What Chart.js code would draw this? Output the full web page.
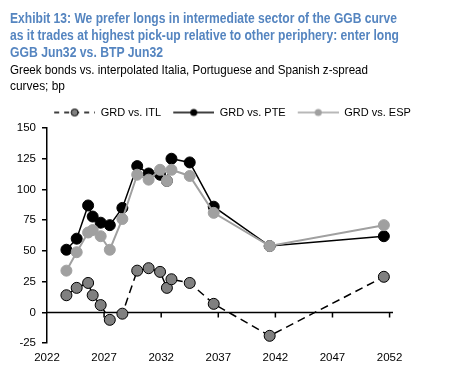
<!DOCTYPE html>
<html>
<head>
<meta charset="utf-8">
<script src="https://cdn.jsdelivr.net/npm/chart.js@4"></script>
<style>
  html, body { margin: 0; padding: 0; background: #fff; }
  #wrap { position: relative; width: 457px; height: 387px; overflow: hidden; }
  .txt { position: absolute; left: 10px; white-space: nowrap; font-family: "Liberation Sans", Arial, sans-serif; }
  .txt span { display: block; transform-origin: 0 50%; }
  #title { top: 10px; font-weight: bold; font-size: 14px; line-height: 17px; color: #5585c0; }
  #sub { top: 62px; font-size: 13px; line-height: 16px; color: #000; }
  canvas { position: absolute; left: 0; top: 0; }
</style>
</head>
<body>
<div id="wrap">
  <canvas id="chart" width="457" height="387"></canvas>
  <div id="title" class="txt">
    <span data-w="387">Exhibit 13: We prefer longs in intermediate sector of the GGB curve</span>
    <span data-w="389">as it trades at highest pick-up relative to other periphery: enter long</span>
    <span data-w="153">GGB Jun32 vs. BTP Jun32</span>
  </div>
  <div id="sub" class="txt">
    <span data-w="358">Greek bonds vs. interpolated Italia, Portuguese and Spanish z-spread</span>
    <span data-w="55">curves; bp</span>
  </div>
</div>
<script>
const maturities = [2023.7, 2024.6, 2025.6, 2026.0, 2026.7, 2027.5, 2028.6, 2029.9, 2030.9, 2031.9, 2032.5, 2032.9, 2034.5, 2036.6, 2041.5, 2051.5];
const grdVsItl = [14, 20, 24, 14, 6, -6, -1, 34, 36, 33, 20, 27, 24, 7, -19, 29];
const grdVsPte = [51, 60, 87, 78, 73, 71, 85, 119, 113, 112, 107, 125, 122, 86, 54, 62];
const grdVsEsp = [34, 49, 65, 67, 62, 51, 76, 112, 108, 116, 107, 116, 111, 81, 54, 71];
const xTicks = [2022, 2027, 2032, 2037, 2042, 2047, 2052];
const yTicks = [-25, 0, 25, 50, 75, 100, 125, 150];

const FONT = "'Liberation Sans', Arial, sans-serif";

// squeeze the heading lines to the narrow face of the original
document.querySelectorAll('.txt span').forEach(el => {
    const range = document.createRange();
    range.selectNodeContents(el);
    const natural = range.getBoundingClientRect().width;
    el.style.transform = 'scaleX(' + (Number(el.dataset.w) / natural) + ')';
});

function toPoints(values) {
    return maturities.map((m, i) => ({ x: m, y: values[i] }));
}

// line + marker swatch for the legend (left margin gives the gap between items)
function legendSwatch(lineColor, fill, border, dashed) {
    const c = document.createElement('canvas');
    c.width = 49;
    c.height = 10;
    const g = c.getContext('2d');
    g.strokeStyle = lineColor;
    g.lineWidth = 1.5;
    if (dashed) g.setLineDash([5, 5]);
    g.beginPath();
    g.moveTo(8, 5);
    g.lineTo(49, 5);
    g.stroke();
    g.setLineDash([]);
    g.beginPath();
    g.arc(28.5, 5, 3.5, 0, Math.PI * 2);
    g.fillStyle = fill;
    g.fill();
    if (border) {
        g.strokeStyle = border;
        g.lineWidth = 1;
        g.stroke();
    }
    return c;
}

// zero line with small downward ticks, like the original
const zeroAxis = {
    id: 'zeroAxis',
    beforeDatasetsDraw(chart) {
        const { ctx, scales: { x, y } } = chart;
        const y0 = y.getPixelForValue(0);
        ctx.save();
        ctx.strokeStyle = '#000';
        ctx.lineWidth = 1.5;
        ctx.beginPath();
        ctx.moveTo(x.left, y0);
        ctx.lineTo(x.right, y0);
        xTicks.slice(1).forEach(t => {
            const px = x.getPixelForValue(t);
            ctx.moveTo(px, y0);
            ctx.lineTo(px, y0 + 5);
        });
        ctx.stroke();
        ctx.restore();
    }
};

new Chart(document.getElementById('chart'), {
    type: 'line',
    data: {
        datasets: [{
            label: 'GRD vs. ITL',
            data: toPoints(grdVsItl),
            borderColor: '#000',
            borderWidth: 1.5,
            borderDash: [8, 5],
            pointRadius: 5.5,
            pointBackgroundColor: '#808080',
            pointBorderColor: '#000',
            pointBorderWidth: 1,
            order: 2,
            legendSwatch: legendSwatch('#000', '#808080', '#000', true)
        }, {
            label: 'GRD vs. PTE',
            data: toPoints(grdVsPte),
            borderColor: '#000',
            borderWidth: 1.5,
            pointRadius: 5.5,
            pointBackgroundColor: '#000',
            pointBorderColor: '#000',
            pointBorderWidth: 1,
            order: 1,
            legendSwatch: legendSwatch('#000', '#000', null, false)
        }, {
            label: 'GRD vs. ESP',
            data: toPoints(grdVsEsp),
            borderColor: '#a0a0a0',
            borderWidth: 2,
            pointRadius: 5.5,
            pointBackgroundColor: '#a0a0a0',
            pointBorderColor: '#a0a0a0',
            pointBorderWidth: 1,
            order: 0,
            legendSwatch: legendSwatch('#a0a0a0', '#a0a0a0', null, false)
        }]
    },
    options: {
        responsive: false,
        animation: false,
        layout: { padding: { top: 103, right: 0, left: 0, bottom: 14 } },
        plugins: {
            tooltip: { enabled: false },
            legend: {
                position: 'top',
                labels: {
                    usePointStyle: true,
                    pointStyleWidth: 49,
                    padding: 4,
                    color: '#000',
                    font: { family: FONT, size: 11 },
                    generateLabels(chart) {
                        return chart.data.datasets.map((ds, i) => ({
                            text: ds.label,
                            pointStyle: ds.legendSwatch,
                            fillStyle: 'transparent',
                            strokeStyle: 'transparent',
                            lineWidth: 0,
                            hidden: false,
                            datasetIndex: i,
                            fontColor: '#000'
                        }));
                    },
                    sort: (a, b) => a.datasetIndex - b.datasetIndex
                }
            }
        },
        scales: {
            x: {
                type: 'linear',
                min: 2022,
                max: 2052.3,
                afterBuildTicks(scale) {
                    scale.ticks = xTicks.map(v => ({ value: v }));
                },
                grid: { display: false, drawTicks: false },
                border: { display: false },
                ticks: {
                    color: '#000',
                    font: { family: FONT, size: 11.5 },
                    padding: 8,
                    maxRotation: 0,
                    callback: v => String(v)
                }
            },
            y: {
                min: -25,
                max: 150,
                afterBuildTicks(scale) {
                    scale.ticks = yTicks.map(v => ({ value: v }));
                },
                afterFit(scale) {
                    scale.width = 47;
                },
                grid: { drawOnChartArea: false, drawTicks: true, tickLength: 5, color: '#000', lineWidth: 1.5 },
                border: { display: true, color: '#000', width: 1.5 },
                ticks: {
                    color: '#000',
                    font: { family: FONT, size: 11.5 },
                    padding: 6
                }
            },
            // empty right-hand box that keeps the plot clear of the right margin
            spacer: {
                type: 'linear',
                position: 'right',
                display: true,
                afterFit(scale) {
                    scale.width = 64;
                },
                grid: { display: false, drawTicks: false },
                border: { display: false },
                ticks: { display: false }
            }
        }
    },
    plugins: [zeroAxis]
});
</script>
</body>
</html>
